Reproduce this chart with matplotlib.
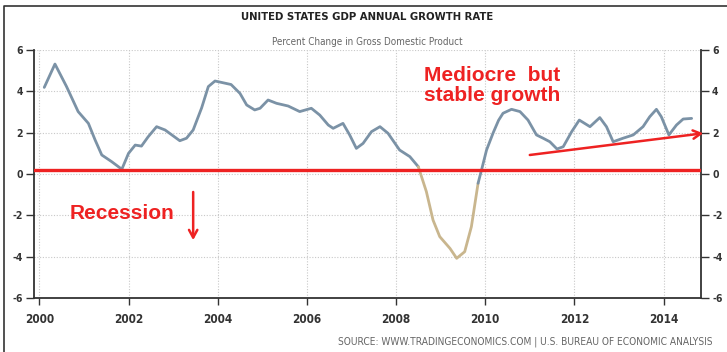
import numpy as np
import matplotlib
matplotlib.use("Agg")
import matplotlib.pyplot as plt
from matplotlib.lines import Line2D

# ---------------- data ----------------
years = [2000.11, 2000.35, 2000.61, 2000.87, 2001.10, 2001.25, 2001.40, 2001.62, 2001.85,
         2002.00, 2002.15, 2002.29, 2002.44, 2002.63, 2002.82, 2003.15, 2003.30, 2003.45,
         2003.64, 2003.79, 2003.94, 2004.30, 2004.50, 2004.65, 2004.83, 2004.95, 2005.13,
         2005.32, 2005.58, 2005.84, 2006.10, 2006.29, 2006.48, 2006.59, 2006.81, 2006.96,
         2007.11, 2007.26, 2007.45, 2007.64, 2007.82, 2008.08, 2008.31, 2008.50, 2008.68,
         2008.83, 2008.98, 2009.21, 2009.36, 2009.54, 2009.69, 2009.84, 2009.93, 2010.03,
         2010.18, 2010.30, 2010.40, 2010.59, 2010.78, 2010.96, 2011.15, 2011.30, 2011.45,
         2011.61, 2011.75, 2011.94, 2012.11, 2012.35, 2012.57, 2012.72, 2012.87, 2013.09,
         2013.32, 2013.54, 2013.69, 2013.84, 2013.95, 2014.12, 2014.29, 2014.44, 2014.63]
growth = [4.19, 5.32, 4.23, 3.02, 2.45, 1.65, 0.92, 0.60, 0.23,
          1.00, 1.40, 1.35, 1.80, 2.29, 2.13, 1.61, 1.73, 2.13,
          3.20, 4.23, 4.50, 4.33, 3.90, 3.34, 3.10, 3.18, 3.58,
          3.42, 3.29, 3.02, 3.18, 2.85, 2.37, 2.21, 2.45, 1.89,
          1.24, 1.48, 2.05, 2.29, 1.97, 1.16, 0.84, 0.35, -0.85,
          -2.23, -3.03, -3.60, -4.08, -3.76, -2.55, -0.45, 0.30, 1.16,
          2.00, 2.60, 2.94, 3.13, 3.02, 2.61, 1.89, 1.73, 1.56,
          1.21, 1.32, 2.05, 2.61, 2.29, 2.73, 2.29, 1.56, 1.73,
          1.89, 2.29, 2.77, 3.13, 2.77, 1.89, 2.37, 2.66, 2.69]
recession_start, recession_end = 2008.50, 2009.84
xtick_years = [2000, 2002, 2004, 2006, 2008, 2010, 2012, 2014]
ytick_vals = [-6, -4, -2, 0, 2, 4, 6]
red_level = 0.2

title = "UNITED STATES GDP ANNUAL GROWTH RATE"
subtitle = "Percent Change in Gross Domestic Product"
source = "SOURCE: WWW.TRADINGECONOMICS.COM | U.S. BUREAU OF ECONOMIC ANALYSIS"

# ---------------- plot ----------------
W, H = 727, 352
fig = plt.figure(figsize=(W / 100, H / 100), dpi=100)
fig.patch.set_facecolor("white")
narrow = ["DejaVu Sans"]
tick_font = dict(family=narrow, fontweight="bold", fontstretch="condensed")

ax = fig.add_axes([34 / W, 1 - 298 / H, (701 - 34) / W, (298 - 50) / H])
ax.set_xlim(1999.88, 2014.84)
ax.set_ylim(-6, 6)

yrs = np.array(years)
g = np.array(growth)
blue = "#7b92a6"
tan = "#c9b68e"
pre = yrs <= recession_start
mid = (yrs >= recession_start) & (yrs <= recession_end)
post = yrs >= recession_end
for m, c in ((pre, blue), (mid, tan), (post, blue)):
    ax.plot(yrs[m], g[m], color=c, lw=2.0, solid_capstyle="round", solid_joinstyle="round", zorder=3)

ax.axhline(red_level, color="#ee2222", lw=2.4, zorder=4)

# grid
ax.set_xticks(xtick_years)
ax.set_yticks(ytick_vals)
ax.grid(True, color="#c8c8c8", linestyle=(0, (1, 1.5)), lw=0.8)
ax.set_axisbelow(True)

for s in ("left", "right", "bottom"):
    ax.spines[s].set_color("#333333")
    ax.spines[s].set_linewidth(1.3)
ax.spines["top"].set_visible(False)

ax.tick_params(axis="x", direction="out", length=5, width=1.0, color="#333333",
               labelsize=8.5, labelcolor="#333333", pad=6)
ax.tick_params(axis="y", direction="out", length=6, width=1.0, color="#333333",
               labelsize=7.5, labelcolor="#333333", pad=2, right=True, labelright=True)
ax.set_xticklabels([str(v) for v in xtick_years], **tick_font)
ax.set_yticklabels([str(v) for v in ytick_vals], **tick_font)

# annotations
ax.text(2000.69, -1.9, "Recession", color="#ee2222", fontsize=15, fontweight="bold",
        family=["Liberation Sans", "DejaVu Sans"], ha="left", va="center", zorder=5)
arrow_style = dict(arrowstyle="->,head_length=0.55,head_width=0.3", color="#ee2222", lw=1.8,
                   shrinkA=0, shrinkB=0)
ax.annotate("", xy=(2003.45, -3.2), xytext=(2003.45, -0.87), arrowprops=arrow_style, zorder=5)
ax.text(2008.63, 4.30, "Mediocre  but\nstable growth", color="#ee2222", fontsize=15, fontweight="bold",
        family=["Liberation Sans", "DejaVu Sans"], ha="left", va="center", linespacing=1.05, zorder=5)
ax.annotate("", xy=(2014.89, 1.97), xytext=(2011.0, 0.92), arrowprops=arrow_style,
            annotation_clip=False, zorder=5)

# titles and source
fig.text(367 / W, 1 - 17 / H, title, ha="center", va="center", fontsize=8.1, color="#222222",
         family=narrow, fontweight="bold", fontstretch="condensed")
fig.text(367 / W, 1 - 42 / H, subtitle, ha="center", va="center", fontsize=7.1, color="#666666",
         family=narrow, fontstretch="condensed")
fig.text(712 / W, 1 - 342 / H, source, ha="right", va="center", fontsize=7.3, color="#666666",
         family=narrow, fontstretch="condensed")

# figure frame (top and left edges)
fig.add_artist(Line2D([4 / W, 4 / W, 1.0], [0.0, 1 - 6 / H, 1 - 6 / H], transform=fig.transFigure,
                      color="#333333", lw=1.2))

fig.savefig("out.png", dpi=100)
